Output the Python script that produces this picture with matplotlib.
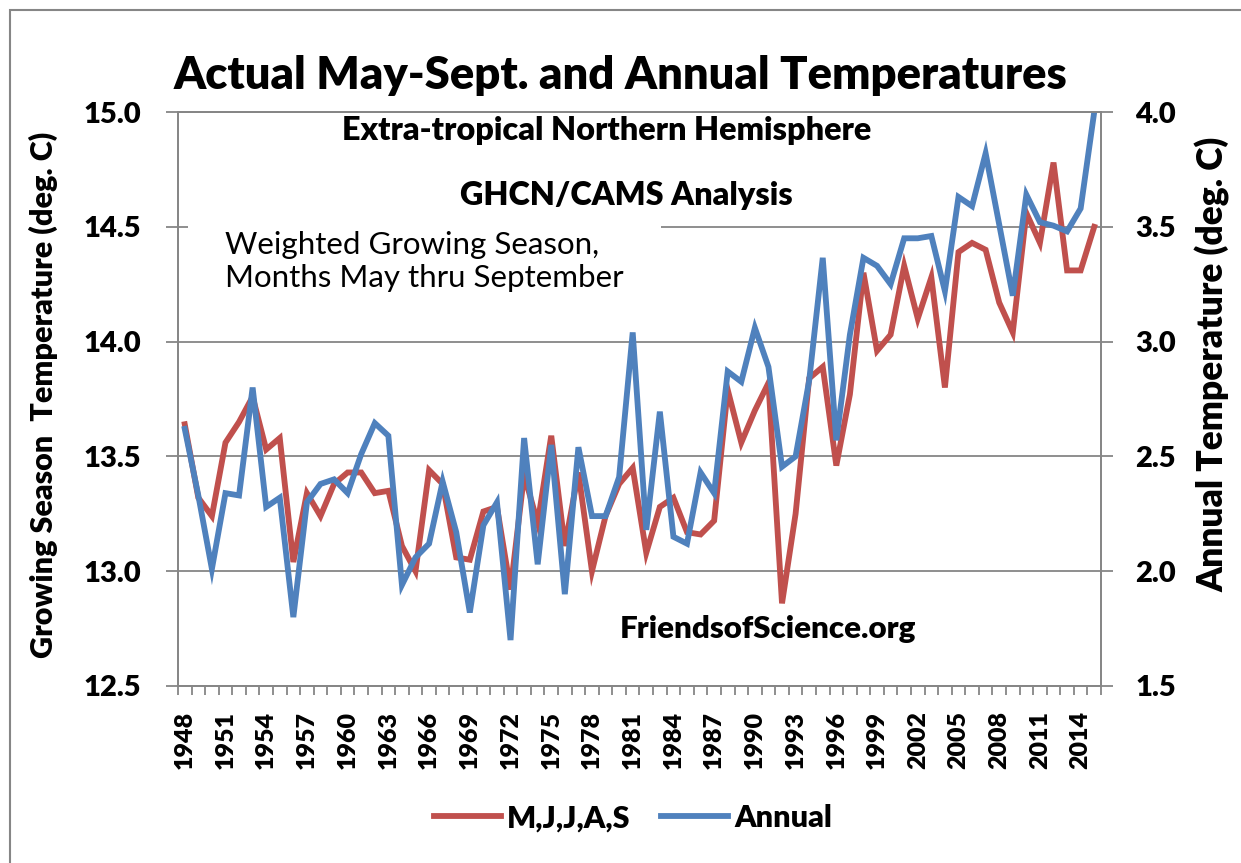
import matplotlib
matplotlib.use("Agg")
import matplotlib.pyplot as plt
from matplotlib.patches import Rectangle
import numpy as np

plt.rcParams['font.family'] = ['Lato', 'DejaVu Sans']

years = list(range(1948, 2016))

# May-Sept. growing season temperature (left axis, deg C)
mjjas = [13.64, 13.32, 13.24, 13.56, 13.65, 13.76, 13.53, 13.58, 13.04, 13.34,
         13.24, 13.38, 13.43, 13.43, 13.34, 13.35, 13.11, 13.00, 13.44, 13.38,
         13.06, 13.05, 13.26, 13.28, 12.92, 13.42, 13.21, 13.59, 13.11, 13.43,
         13.00, 13.24, 13.38, 13.45, 13.08, 13.28, 13.32, 13.17, 13.16, 13.22,
         13.79, 13.56, 13.70, 13.82, 12.86, 13.25, 13.84, 13.89, 13.46, 13.77,
         14.30, 13.96, 14.03, 14.33, 14.10, 14.28, 13.80, 14.39, 14.43, 14.40,
         14.17, 14.04, 14.56, 14.43, 14.78, 14.31, 14.31, 14.50]

# annual temperature (right axis, deg C)
annual = [2.62, 2.33, 2.01, 2.34, 2.33, 2.80, 2.28, 2.32, 1.80, 2.30,
          2.38, 2.40, 2.34, 2.51, 2.645, 2.59, 1.94, 2.06, 2.12, 2.39,
          2.17, 1.82, 2.20, 2.30, 1.70, 2.58, 2.03, 2.55, 1.90, 2.54,
          2.24, 2.24, 2.41, 3.04, 2.18, 2.695, 2.15, 2.12, 2.43, 2.34,
          2.87, 2.825, 3.06, 2.89, 2.455, 2.50, 2.83, 3.365, 2.57, 3.03,
          3.365, 3.33, 3.25, 3.45, 3.45, 3.46, 3.22, 3.63, 3.59, 3.82,
          3.51, 3.20, 3.64, 3.52, 3.505, 3.48, 3.58, 4.00]

left_ticks = [12.5, 13.0, 13.5, 14.0, 14.5, 15.0]
right_ticks = [1.5, 2.0, 2.5, 3.0, 3.5, 4.0]

red = "#C0504D"
blue = "#4F81BD"
grey = "#868686"
bold = "heavy"

fig = plt.figure(figsize=(12.41, 8.63), dpi=100)
ax = fig.add_axes([0.1434, 0.2051, 0.7438, 0.6651])
ax2 = ax.twinx()

x = np.arange(len(years))
l1, = ax.plot(x, mjjas, color=red, lw=4.2, label="M,J,J,A,S", solid_joinstyle="miter")
l2, = ax2.plot(x, annual, color=blue, lw=4.2, label="Annual", solid_joinstyle="miter")

ax.set_xlim(-0.5, len(years) - 0.5)
ax.set_ylim(12.5, 15.0)
ax2.set_ylim(1.5, 4.0)

ax.set_yticks(left_ticks)
ax.set_yticklabels([f"{v:.1f}" for v in left_ticks], fontsize=21, fontweight=bold)
ax2.set_yticks(right_ticks)
ax2.set_yticklabels([f"{v:.1f}" for v in right_ticks], fontsize=21, fontweight=bold)

# category boundaries get the tick marks, labels sit on every third year
ax.set_xticks(np.arange(-0.5, len(years)), minor=False)
ax.set_xticklabels([])
lab_idx = x[::3]
ax.set_xticks(lab_idx, minor=True)
ax.set_xticklabels([str(years[i]) for i in lab_idx], minor=True,
                   rotation=90, fontsize=18, fontweight=bold)
ax.tick_params(axis="x", which="major", length=6.5, width=1.3, color=grey, direction="out")
ax.tick_params(axis="x", which="minor", length=0, pad=18)
ax.tick_params(axis="y", length=8.6, width=1.3, color=grey, direction="out", pad=18)
ax2.tick_params(axis="y", length=8.6, width=1.3, color=grey, direction="out", pad=16)

ax.grid(axis="y", color=grey, lw=1.3)
for a in (ax, ax2):
    for s in a.spines.values():
        s.set_color(grey)
        s.set_linewidth(1.3)

fig.text(0.035, 0.542, "Growing Season  Temperature (deg. C)", rotation=90,
         ha="center", va="center", fontsize=22, fontweight=bold)
fig.text(0.977, 0.578, "Annual Temperature (deg. C)", rotation=90,
         ha="center", va="center", fontsize=25.5, fontweight=bold)

fig.text(0.5, 0.913, "Actual May-Sept. and Annual Temperatures",
         ha="center", va="center", fontsize=32.7, fontweight=bold)
fig.text(0.489, 0.849, "Extra-tropical Northern Hemisphere",
         ha="center", va="center", fontsize=23.3, fontweight=bold)
fig.text(0.505, 0.773, "GHCN/CAMS Analysis", ha="center", va="center",
         fontsize=23.3, fontweight=bold)

ax.text(0.051, 0.74, "Weighted Growing Season,\nMonths May thru September",
        transform=ax.transAxes, ha="left", va="center", fontsize=22.5,
        linespacing=1.2, zorder=3,
        bbox=dict(boxstyle="square,pad=1.2", fc="white", ec="none"))
ax.text(0.639, 0.10, "FriendsofScience.org", transform=ax.transAxes,
        ha="center", va="center", fontsize=22.5, fontweight=bold, zorder=3,
        bbox=dict(boxstyle="square,pad=0.2", fc="white", ec="none"))

fig.legend(handles=[l1, l2], loc="center", bbox_to_anchor=(0.51, 0.052), ncol=2,
           frameon=False, handlelength=2.2, handletextpad=0.2, columnspacing=1.0,
           prop=dict(size=22, weight=bold))

fig.patches.append(Rectangle((0.0081, -0.1), 1.2, 1.0881, transform=fig.transFigure,
                             fill=False, ec=grey, lw=1.5))

fig.savefig("out.png", dpi=100)
